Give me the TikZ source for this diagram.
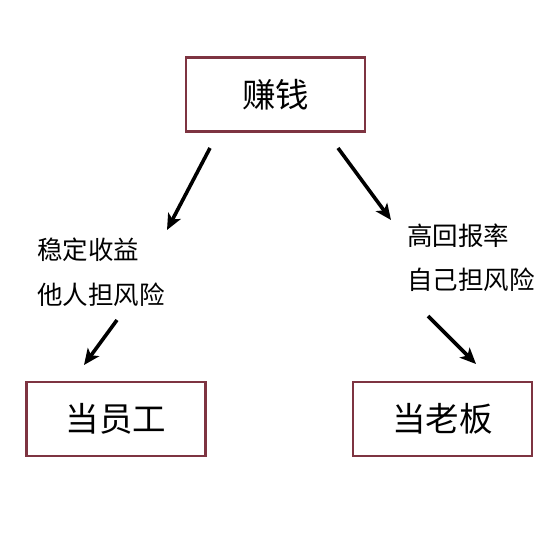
\documentclass[tikz,border=0pt]{standalone}
\usepackage{fontspec}
\newfontfamily\cjk{Noto Sans CJK SC}
\usetikzlibrary{arrows.meta}
\definecolor{boxred}{HTML}{7E3441}
\begin{document}
\begin{tikzpicture}[x=1pt,y=-1pt,
  box/.style={draw=boxred,line width=2.3pt,fill=white,minimum width=179pt,minimum height=74pt,inner sep=0pt,font=\cjk\fontsize{33.5}{38}\selectfont},
  lbl/.style={font=\cjk\fontsize{25.5}{28}\selectfont,inner sep=0pt,anchor=west},
  arr/.style={line width=3.6pt,-{Stealth[length=16pt,width=14pt,inset=4pt]}}]
\useasboundingbox (0,0) rectangle (553,553);
\node[box] (top) at (275.5,94.5) {赚钱};
\node[box] (emp) at (116,419) {当员工};
\node[box] (boss) at (442.5,419) {当老板};
\node[lbl] (l1) at (37,250) {稳定收益};
\node[lbl] (l2) at (37,295) {他人担风险};
\node[lbl] (r1) at (407,236) {高回报率};
\node[lbl] (r2) at (407,280) {自己担风险};
\coordinate (a1s) at (210,148);
\coordinate (a1e) at (167,230);
\coordinate (a2s) at (117,320);
\coordinate (a2e) at (84,365);
\coordinate (a3s) at (338,148);
\coordinate (a3e) at (391,220);
\coordinate (a4s) at (428,316);
\coordinate (a4e) at (476,364);
\draw[arr] (a1s) -- (a1e);
\draw[arr] (a2s) -- (a2e);
\draw[arr] (a3s) -- (a3e);
\draw[arr] (a4s) -- (a4e);
\end{tikzpicture}
\end{document}
